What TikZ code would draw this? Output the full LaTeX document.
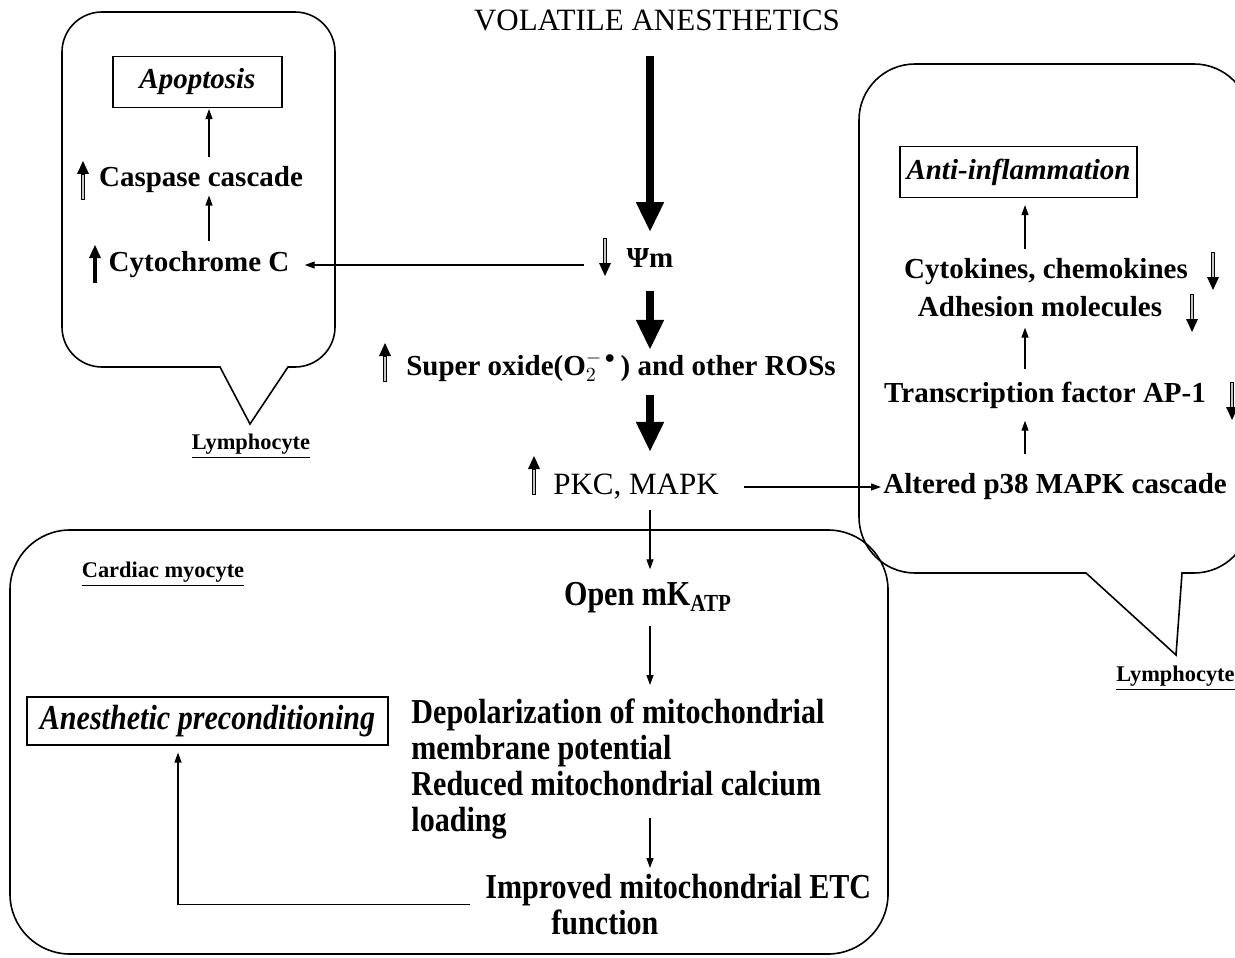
\documentclass[tikz,border=0pt]{standalone}
\usepackage{fontspec}
\setmainfont{Liberation Serif}
\newfontfamily\narrowfont[FakeStretch=0.86]{Liberation Serif}
\usetikzlibrary{arrows.meta,positioning,calc}
\tikzset{
  txt/.style={font=\bfseries\fontsize{14.5}{16}\selectfont, inner sep=0pt},
  headtxt/.style={font=\fontsize{15.5}{17}\selectfont, inner sep=0pt},
  narrowtxt/.style={font=\narrowfont\bfseries\fontsize{17.5}{18}\selectfont, inner sep=0pt, align=left},
  outcome/.style={draw, line width=0.6pt, inner sep=0pt, font=\bfseries\itshape\fontsize{14.5}{16}\selectfont},
  cellname/.style={font=\bfseries\fontsize{11.2}{12}\selectfont, inner sep=0pt},
  cellbox/.style={draw, line width=0.8pt},
  bigflow/.style={line width=4pt, -{Triangle[width=13pt,length=15pt]}},
  flow/.style={line width=0.6pt, -{Triangle[width=3.5pt,length=5pt]}},
  upmark/.pic={
    \fill (0,-20) -- (-6,-7) -- (6,-7) -- cycle;
    \draw[line width=0.35pt, fill=gray!45] (-1.6,-7) rectangle (1.6,18);
  },
  upmarksolid/.pic={
    \fill (0,-20) -- (-6,-7) -- (6,-7) -- cycle;
    \fill (-2,-7) rectangle (2,18);
  },
  downmark/.pic={
    \fill (0,20) -- (-6,7) -- (6,7) -- cycle;
    \draw[line width=0.35pt, fill=gray!45] (-1.6,7) rectangle (1.6,-18);
  }
}
\begin{document}
\begin{tikzpicture}[x=0.5pt,y=-0.5pt]
  \useasboundingbox (0,0) rectangle (1235,957);
  \clip (0,0) rectangle (1235,957);
  \fill[white] (0,0) rectangle (1235,957);

  % cells
  \draw[cellbox] (250,424) -- (220,367) [rounded corners=20pt] -- (62,367) -- (62,12)
    -- (335,12) -- (335,367) [sharp corners] -- (288,367) -- cycle;
  \draw[cellbox] (1176,655) -- (1086,573) [rounded corners=28pt] -- (859,573) -- (859,64)
    -- (1250,64) -- (1250,573) [sharp corners] -- (1182,573) -- cycle;
  \draw[cellbox, rounded corners=30pt] (10,530) rectangle (888,954);

  \coordinate (spine) at (650,0);
  \coordinate (laxis) at (209,0);
  \coordinate (raxis) at (1025,0);

  % main pathway
  \node[headtxt] (vola) at (657,20) {VOLATILE ANESTHETICS};
  \node[txt] (psi) at (650,258) {Ψm};
  \node[txt] (sox) at (621,367) {Super oxide(O$_2^{-\,\bullet}$\,) and other ROSs};
  \node[headtxt] (pkc) at (636,487) {PKC, MAPK};
  \node[narrowtxt] (open) at (648,598) {Open mK\textsubscript{ATP}};
  \node[narrowtxt, anchor=north west] (depol) at (411,698)
    {Depolarization of mitochondrial\\membrane potential\\Reduced mitochondrial calcium\\loading};
  \node[narrowtxt, anchor=north west] (etc) at (485,874)
    {Improved mitochondrial ETC\\\hspace*{33pt}function};
  \node[outcome, font=\narrowfont\bfseries\itshape\fontsize{17.5}{18}\selectfont,
    minimum width=180.5pt, minimum height=24pt] (precond) at (207.5,721) {Anesthetic preconditioning};
  \node[cellname] (myo) at (163,574) {\underline{Cardiac myocyte}};

  % apoptosis cell
  \node[outcome, minimum width=84.5pt, minimum height=25.5pt] (apop) at (197.5,82) {Apoptosis};
  \node[txt] (casp) at (201,180) {Caspase cascade};
  \node[txt] (cyto) at (199,265) {Cytochrome C};
  \node[cellname] (lymL) at (251,446) {\underline{Lymphocyte}};

  % inflammation cell
  \node[outcome, minimum width=118.5pt, minimum height=25.5pt] (anti) at (1018.5,172) {Anti-inflammation};
  \node[txt] (cytok) at (1046,272) {Cytokines, chemokines};
  \node[txt] (adhes) at (1040,307) {Adhesion molecules};
  \node[txt] (ap1) at (1045,395) {Transcription factor AP-1};
  \node[txt, anchor=west] (p38) at (883,487) {Altered p38 MAPK cascade};
  \node[cellname, anchor=west] (lymR) at (1116,678) {\underline{Lymphocyte}};

  % up / down marks
  \pic at (83,181) {upmark};
  \pic at (95,265) {upmarksolid};
  \pic at (605,256) {downmark};
  \pic at (385,363) {upmark};
  \pic at (534,476) {upmark};
  \pic at (1213,270) {downmark};
  \pic at (1192,312) {downmark};
  \pic at (1232,400) {downmark};

  % connectors
  \draw[bigflow, shorten <=12.5pt, shorten >=8pt] (vola.south -| spine) -- (psi.north -| spine);
  \draw[bigflow, shorten <=11.5pt, shorten >=1pt] (psi.south -| spine) -- (sox.north -| spine);
  \draw[bigflow, shorten <=6.5pt, shorten >=11pt] (sox.south -| spine) -- (pkc.north -| spine);
  \draw[flow, shorten <=21pt, shorten >=7.5pt] (psi.west |- cyto) -- (cyto.east);
  \draw[flow, shorten <=12.5pt, shorten >=1pt] (pkc.east) -- (p38.west);
  \draw[flow, shorten <=5pt, shorten >=6.5pt] (pkc.south -| spine) -- (open.north -| spine);
  \draw[flow, shorten <=6pt, shorten >=6.5pt] (open.south -| spine) -- (depol.north -| spine);
  \draw[flow, shorten <=-10.5pt, shorten >=3pt] (depol.south -| spine) -- (etc.north -| spine);
  \draw[flow, shorten <=7.5pt, shorten >=3.5pt] (etc.west) -| ([xshift=-14.75pt]precond.south);
  \draw[flow, shorten <=5pt, shorten >=1pt] (cyto.north -| laxis) -- (casp.south -| laxis);
  \draw[flow, shorten <=4.5pt, shorten >=0.5pt] (casp.north -| laxis) -- (apop.south -| laxis);
  \draw[flow, shorten <=9.5pt, shorten >=6pt] (p38.north -| raxis) -- (ap1.south -| raxis);
  \draw[flow, shorten <=6pt, shorten >=5pt] (ap1.north -| raxis) -- (adhes.south -| raxis);
  \draw[flow, shorten <=4.5pt, shorten >=3.5pt] (cytok.north -| raxis) -- (anti.south -| raxis);
\end{tikzpicture}
\end{document}
